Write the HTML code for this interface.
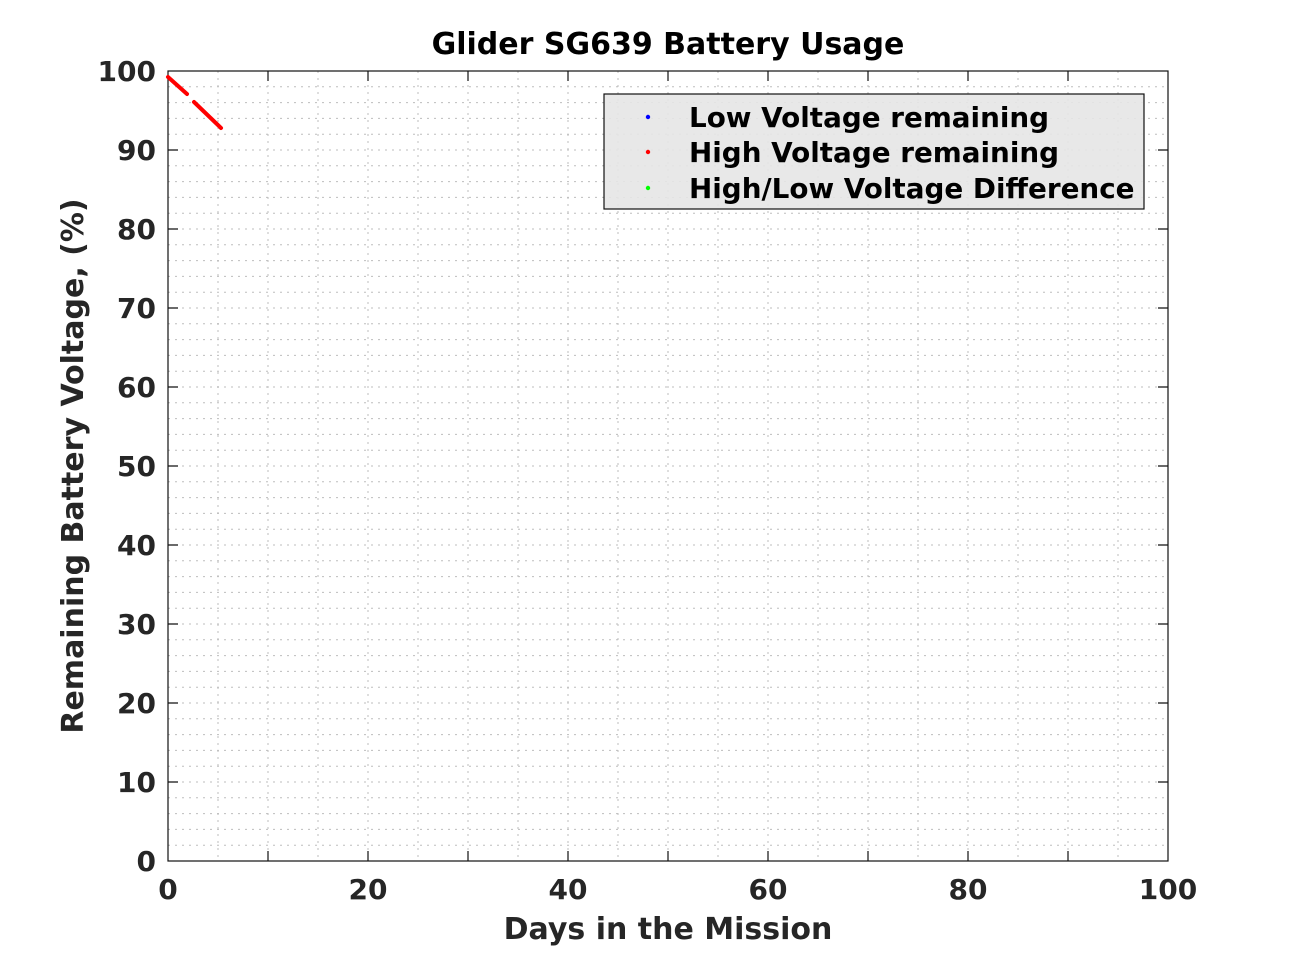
<!DOCTYPE html>
<html><head><style>body{margin:0;background:#fff}</style></head><body>
<svg width="1291" height="968" xmlns="http://www.w3.org/2000/svg" font-family="DejaVu Sans, Liberation Sans, sans-serif" font-weight="bold">
<rect width="1291" height="968" fill="#fff"/>
<g id="grid" stroke="#bdbdbd" stroke-width="1" stroke-dasharray="2,5">
<path d="
M218,71V861 M268,71V861 M318,71V861 M368,71V861 M418,71V861 M468,71V861 M518,71V861 M568,71V861 M618,71V861 M668,71V861 M718,71V861 M768,71V861 M818,71V861 M868,71V861 M918,71V861 M968,71V861 M1018,71V861 M1068,71V861 M1118,71V861
M168,86.8H1168 M168,102.6H1168 M168,118.4H1168 M168,134.2H1168 M168,150H1168 M168,165.8H1168 M168,181.6H1168 M168,197.4H1168 M168,213.2H1168 M168,229H1168 M168,244.8H1168 M168,260.6H1168 M168,276.4H1168 M168,292.2H1168 M168,308H1168 M168,323.8H1168 M168,339.6H1168 M168,355.4H1168 M168,371.2H1168 M168,387H1168 M168,402.8H1168 M168,418.6H1168 M168,434.4H1168 M168,450.2H1168 M168,466H1168 M168,481.8H1168 M168,497.6H1168 M168,513.4H1168 M168,529.2H1168 M168,545H1168 M168,560.8H1168 M168,576.6H1168 M168,592.4H1168 M168,608.2H1168 M168,624H1168 M168,639.8H1168 M168,655.6H1168 M168,671.4H1168 M168,687.2H1168 M168,703H1168 M168,718.8H1168 M168,734.6H1168 M168,750.4H1168 M168,766.2H1168 M168,782H1168 M168,797.8H1168 M168,813.6H1168 M168,829.4H1168 M168,845.2H1168"/>
</g>
<rect x="168" y="71" width="1000" height="790" fill="none" stroke="#111" stroke-width="1.2"/>
<g stroke="#111" stroke-width="1.2">
<path d="M268,861v-10 M368,861v-10 M468,861v-10 M568,861v-10 M668,861v-10 M768,861v-10 M868,861v-10 M968,861v-10 M1068,861v-10
M268,71v10 M368,71v10 M468,71v10 M568,71v10 M668,71v10 M768,71v10 M868,71v10 M968,71v10 M1068,71v10
M168,150h10 M168,229h10 M168,308h10 M168,387h10 M168,466h10 M168,545h10 M168,624h10 M168,703h10 M168,782h10
M1168,150h-10 M1168,229h-10 M1168,308h-10 M1168,387h-10 M1168,466h-10 M1168,545h-10 M1168,624h-10 M1168,703h-10 M1168,782h-10"/>
</g>
<g stroke="#ff0000" stroke-width="4" stroke-linecap="round">
<line x1="168" y1="77" x2="187" y2="94"/>
<line x1="194" y1="102" x2="221" y2="128"/>
</g>
<rect x="604" y="94" width="540" height="115" fill="#e6e6e6" fill-opacity="0.9" stroke="#111" stroke-width="1.2"/>
<circle cx="648" cy="117" r="2.2" fill="#0000ff"/>
<circle cx="648" cy="152" r="2.2" fill="#ff0000"/>
<circle cx="648" cy="188" r="2.2" fill="#00ff00"/>
<g font-size="27.8" fill="#000">
<text x="689" y="127">Low Voltage remaining</text>
<text x="689" y="162">High Voltage remaining</text>
<text x="689" y="198">High/Low Voltage Difference</text>
</g>
<text x="668" y="54" font-size="30" text-anchor="middle" fill="#000">Glider SG639 Battery Usage</text>
<g font-size="28" fill="#262626" text-anchor="middle">
<text x="168" y="899">0</text><text x="368" y="899">20</text><text x="568" y="899">40</text><text x="768" y="899">60</text><text x="968" y="899">80</text><text x="1168" y="899">100</text>
</g>
<g font-size="28" fill="#262626" text-anchor="end">
<text x="156" y="871">0</text><text x="156" y="792">10</text><text x="156" y="713">20</text><text x="156" y="634">30</text><text x="156" y="555">40</text><text x="156" y="476">50</text><text x="156" y="397">60</text><text x="156" y="318">70</text><text x="156" y="239">80</text><text x="156" y="160">90</text><text x="156" y="81">100</text>
</g>
<text x="668" y="939" font-size="30" fill="#262626" text-anchor="middle">Days in the Mission</text>
<text transform="translate(83,466) rotate(-90)" font-size="30" fill="#262626" text-anchor="middle">Remaining Battery Voltage, (%)</text>
</svg>
</body></html>
